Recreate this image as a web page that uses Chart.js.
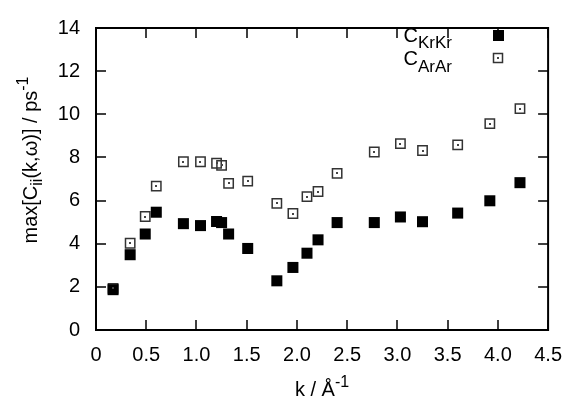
<!DOCTYPE html>
<html>
<head>
<meta charset="utf-8">
<script src="https://cdn.jsdelivr.net/npm/chart.js@4.4.1/dist/chart.umd.min.js"></script>
<style>
	html, body { margin: 0; padding: 0; background: #fff; }
	#wrap { width: 575px; height: 405px; }
</style>
</head>
<body>
<div id="wrap"><canvas id="peakChart" width="575" height="405"></canvas></div>
<script>
// k values (1/Angstrom) and peak heights
const kValues = [0.17, 0.34, 0.49, 0.60, 0.87, 1.04, 1.20, 1.25, 1.32, 1.51, 1.80, 1.96, 2.10, 2.21, 2.40, 2.77, 3.03, 3.25, 3.60, 3.92, 4.22];
const krkrPeak = [1.87, 3.49, 4.45, 5.46, 4.93, 4.84, 5.03, 4.98, 4.45, 3.78, 2.28, 2.90, 3.56, 4.18, 4.98, 4.98, 5.24, 5.02, 5.42, 5.99, 6.83];
const ararPeak = [1.93, 4.02, 5.26, 6.67, 7.80, 7.80, 7.73, 7.63, 6.80, 6.90, 5.87, 5.40, 6.18, 6.42, 7.26, 8.25, 8.64, 8.32, 8.58, 9.57, 10.26];
const xTicks = [0, 0.5, 1, 1.5, 2, 2.5, 3, 3.5, 4, 4.5];
const yTicks = [0, 2, 4, 6, 8, 10, 12, 14];

const FONT = "'Liberation Sans', Arial, Helvetica, sans-serif";

// text with sub/superscript pieces: [{t, size, dy}]
function richWidth(ctx, parts) {
	let w = 0;
	parts.forEach(p => {
		ctx.font = p.size + 'px ' + FONT;
		w += ctx.measureText(p.t).width;
	});
	return w;
}

function drawRich(ctx, parts, x, y) {
	let cx = x;
	parts.forEach(p => {
		ctx.font = p.size + 'px ' + FONT;
		ctx.fillText(p.t, cx, y + (p.dy || 0));
		cx += ctx.measureText(p.t).width;
	});
}

// gnuplot style frame with inward ticks on all sides
const framePlugin = {
	id: 'framePlugin',
	beforeDatasetsDraw(chart) {
		const ctx = chart.ctx;
		const a = chart.chartArea;
		const x = chart.scales.x;
		const y = chart.scales.y;
		ctx.save();
		ctx.strokeStyle = '#000';
		ctx.lineWidth = 1.5;
		ctx.beginPath();
		xTicks.forEach(v => {
			const px = Math.round(x.getPixelForValue(v));
			ctx.moveTo(px, a.bottom); ctx.lineTo(px, a.bottom - 10);
			ctx.moveTo(px, a.top); ctx.lineTo(px, a.top + 10);
		});
		yTicks.forEach(v => {
			const py = Math.round(y.getPixelForValue(v));
			ctx.moveTo(a.left, py); ctx.lineTo(a.left + 10, py);
			ctx.moveTo(a.right, py); ctx.lineTo(a.right - 10, py);
		});
		ctx.stroke();
		ctx.lineWidth = 2;
		ctx.strokeRect(a.left, a.top, a.right - a.left, a.bottom - a.top);
		ctx.restore();
	},
	afterDatasetsDraw(chart) {
		const ctx = chart.ctx;
		ctx.save();
		// small dot in the middle of every open square
		ctx.fillStyle = '#444';
		chart.getDatasetMeta(1).data.forEach(pt => {
			ctx.fillRect(Math.round(pt.x) - 1, Math.round(pt.y) - 1, 2, 2);
		});

		// legend
		ctx.fillStyle = '#000';
		ctx.textBaseline = 'alphabetic';
		const l1 = [{t: 'C', size: 20}, {t: 'KrKr', size: 17, dy: 6}];
		const l2 = [{t: 'C', size: 20}, {t: 'ArAr', size: 17, dy: 7}];
		drawRich(ctx, l1, 452 - richWidth(ctx, l1), 42);
		drawRich(ctx, l2, 452 - richWidth(ctx, l2), 65);
		ctx.fillRect(493, 30, 11, 11);
		ctx.strokeStyle = '#333';
		ctx.lineWidth = 1.5;
		ctx.strokeRect(493.5, 53.5, 9, 9);
		ctx.fillStyle = '#444';
		ctx.fillRect(497, 57, 2, 2);

		// x axis title
		ctx.fillStyle = '#000';
		const xt = [{t: 'k / Å', size: 20}, {t: '-1', size: 16, dy: -9}];
		const a = chart.chartArea;
		drawRich(ctx, xt, (a.left + a.right) / 2 - richWidth(ctx, xt) / 2, 396);

		// y axis title, rotated
		const yt = [
			{t: 'max[C', size: 20},
			{t: 'ii', size: 16, dy: 5},
			{t: '(k,ω)] / ps', size: 20},
			{t: '-1', size: 16, dy: -9}
		];
		ctx.translate(37, 160);
		ctx.rotate(-Math.PI / 2);
		drawRich(ctx, yt, -richWidth(ctx, yt) / 2, 0);
		ctx.restore();
	}
};

const peakData = {
	datasets: [{
		label: 'C_KrKr',
		data: kValues.map((k, i) => ({x: k, y: krkrPeak[i]})),
		showLine: false,
		pointStyle: 'rect',
		pointRadius: 7.8,
		pointBorderWidth: 0,
		backgroundColor: '#000',
		borderColor: '#000'
	}, {
		label: 'C_ArAr',
		data: kValues.map((k, i) => ({x: k, y: ararPeak[i]})),
		showLine: false,
		pointStyle: 'rect',
		pointRadius: 6.6,
		pointBorderWidth: 1.5,
		backgroundColor: 'rgba(255, 255, 255, 0)',
		borderColor: '#333'
	}]
};

const peakConfig = {
	type: 'scatter',
	data: peakData,
	options: {
		responsive: false,
		animation: false,
		devicePixelRatio: 1,
		layout: {
			padding: {top: 13, right: 16, bottom: 0, left: 0}
		},
		plugins: {
			legend: {display: false},
			tooltip: {enabled: false}
		},
		scales: {
			x: {
				type: 'linear',
				min: 0,
				max: 4.5,
				afterBuildTicks: s => { s.ticks = xTicks.map(v => ({value: v})); },
				afterFit: s => { s.height = 75; },
				grid: {display: false, drawTicks: false},
				border: {display: false},
				ticks: {
					color: '#000',
					padding: 13,
					maxRotation: 0,
					font: {family: FONT, size: 20}
				}
			},
			y: {
				type: 'linear',
				min: 0,
				max: 14,
				afterBuildTicks: s => { s.ticks = yTicks.map(v => ({value: v})); },
				afterFit: s => { s.width = 96; },
				grid: {display: false, drawTicks: false},
				border: {display: false},
				ticks: {
					color: '#000',
					padding: 16,
					font: {family: FONT, size: 20}
				}
			}
		}
	},
	plugins: [framePlugin]
};

const peakChart = new Chart(
	document.getElementById('peakChart'),
	peakConfig
);
</script>
</body>
</html>
